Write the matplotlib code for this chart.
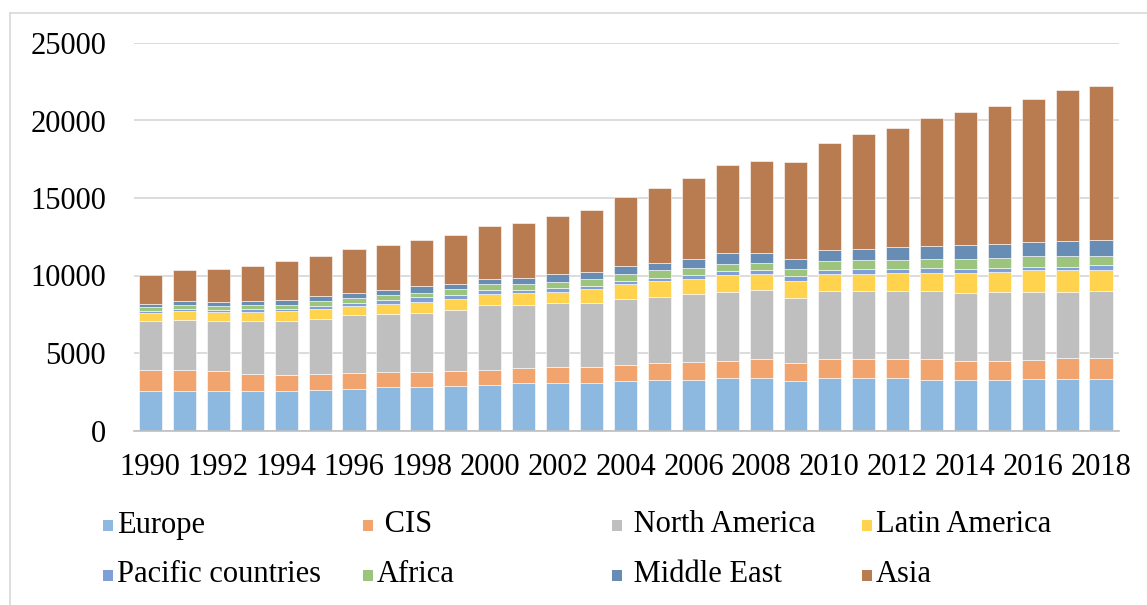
import numpy as np
import matplotlib
matplotlib.use("Agg")
import matplotlib.pyplot as plt
from matplotlib.patches import Rectangle

# Données
years = list(range(1990, 2019))

europe = [2520, 2520, 2520, 2520, 2520, 2620, 2700, 2790, 2790, 2880,
          2940, 3050, 3050, 3050, 3200, 3290, 3290, 3370, 3370, 3200,
          3370, 3370, 3370, 3280, 3270, 3270, 3350, 3350, 3350]
cis = [1390, 1390, 1300, 1150, 1070, 1050, 990, 990, 990, 970,
       990, 970, 1030, 1030, 1050, 1050, 1140, 1140, 1220, 1140,
       1220, 1220, 1220, 1310, 1200, 1200, 1220, 1310, 1310]
north_america = [3130, 3220, 3220, 3370, 3450, 3540, 3730, 3730, 3800, 3910,
                 4140, 4060, 4150, 4150, 4230, 4300, 4380, 4450, 4460, 4230,
                 4380, 4380, 4380, 4380, 4380, 4470, 4360, 4280, 4360]
latin_america = [510, 580, 580, 600, 640, 640, 640, 620, 730, 730,
                 730, 790, 730, 900, 970, 990, 970, 1080, 1050, 1050,
                 1140, 1140, 1220, 1220, 1310, 1310, 1400, 1400, 1310]
pacific = [170, 150, 170, 170, 170, 170, 170, 260, 280, 240,
           260, 190, 260, 170, 170, 240, 260, 240, 240, 320,
           240, 320, 240, 320, 240, 240, 240, 240, 320]
africa = [230, 260, 230, 300, 260, 320, 320, 320, 300, 410,
          390, 390, 390, 470, 470, 490, 470, 470, 490, 490,
          560, 560, 560, 560, 670, 670, 670, 670, 640]
middle_east = [210, 260, 260, 260, 300, 320, 300, 340, 410, 340,
               320, 410, 490, 470, 500, 470, 580, 670, 640, 640,
               730, 730, 820, 820, 880, 900, 900, 970, 990]
asia = [1880, 1980, 2150, 2240, 2520, 2580, 2850, 2920, 3010, 3150,
        3410, 3500, 3740, 4000, 4450, 4790, 5180, 5700, 5900, 6250,
        6910, 7380, 7700, 8260, 8610, 8850, 9240, 9730, 9970]

series = [
    ("Europe", europe, "#8DB8E0"),
    ("CIS", cis, "#F1A46E"),
    ("North America", north_america, "#BFBFBF"),
    ("Latin America", latin_america, "#FFD34E"),
    ("Pacific countries", pacific, "#7F9FD9"),
    ("Africa", africa, "#9DC47D"),
    ("Middle East", middle_east, "#678DB5"),
    ("Asia", asia, "#B97C51"),
]

W, H = 1147, 605
plt.rcParams["font.family"] = ["Liberation Serif", "DejaVu Serif"]
fig = plt.figure(figsize=(W / 100, H / 100), dpi=100)
ax = fig.add_axes([134 / W, 1 - 430.5 / H, 985 / W, 387.5 / H])

x = np.arange(len(years))
bottom = np.zeros(len(years))
for name, vals, col in series:
    vals = np.array(vals, dtype=float)
    ax.bar(x, vals, width=0.68, bottom=bottom, color=col,
           edgecolor="white", linewidth=0.4, zorder=3)
    bottom += vals

ax.set_xlim(-0.48, 28.53)
ax.set_ylim(0, 25000)
ax.set_yticks(range(0, 25001, 5000))
ax.set_xticks(x[::2])
ax.set_xticklabels([str(y) for y in years[::2]])
ax.tick_params(axis="both", length=0, labelsize=22)
ax.tick_params(axis="y", pad=20)
ax.tick_params(axis="x", pad=16)
ax.grid(axis="y", color="#D9D9D9", linewidth=1.3, zorder=0)
for s in ["top", "right", "left"]:
    ax.spines[s].set_visible(False)
ax.spines["bottom"].set_color("#BFBFBF")
ax.spines["bottom"].set_linewidth(1.2)
ax.spines["bottom"].set_zorder(4)

# Légende manuelle (2 lignes x 4 colonnes, comme dans Excel)
labels = ["Europe", " CIS", " North America", "Latin America",
          "Pacific countries", "Africa", " Middle East", "Asia"]
col_x = [103, 363, 612, 862]
row_y = [525, 575]
for i, (name, vals, col) in enumerate(series):
    px = col_x[i % 4]
    py = row_y[i // 4]
    fig.add_artist(Rectangle((px / W, 1 - (py + 6) / H), 10 / W, 11 / H,
                             transform=fig.transFigure, facecolor=col,
                             edgecolor="none"))
    fig.text((px + 14) / W, 1 - py / H, labels[i], fontsize=22,
             va="center", ha="left")

# cadre du graphique (bords gauche et haut)
fig.add_artist(plt.Line2D([10 / W, 10 / W], [0, 1 - 13 / H],
                          transform=fig.transFigure, color="#D9D9D9", lw=1.2))
fig.add_artist(plt.Line2D([10 / W, 1], [1 - 13 / H, 1 - 13 / H],
                          transform=fig.transFigure, color="#D9D9D9", lw=1.2))

fig.savefig("out.png", dpi=100)
